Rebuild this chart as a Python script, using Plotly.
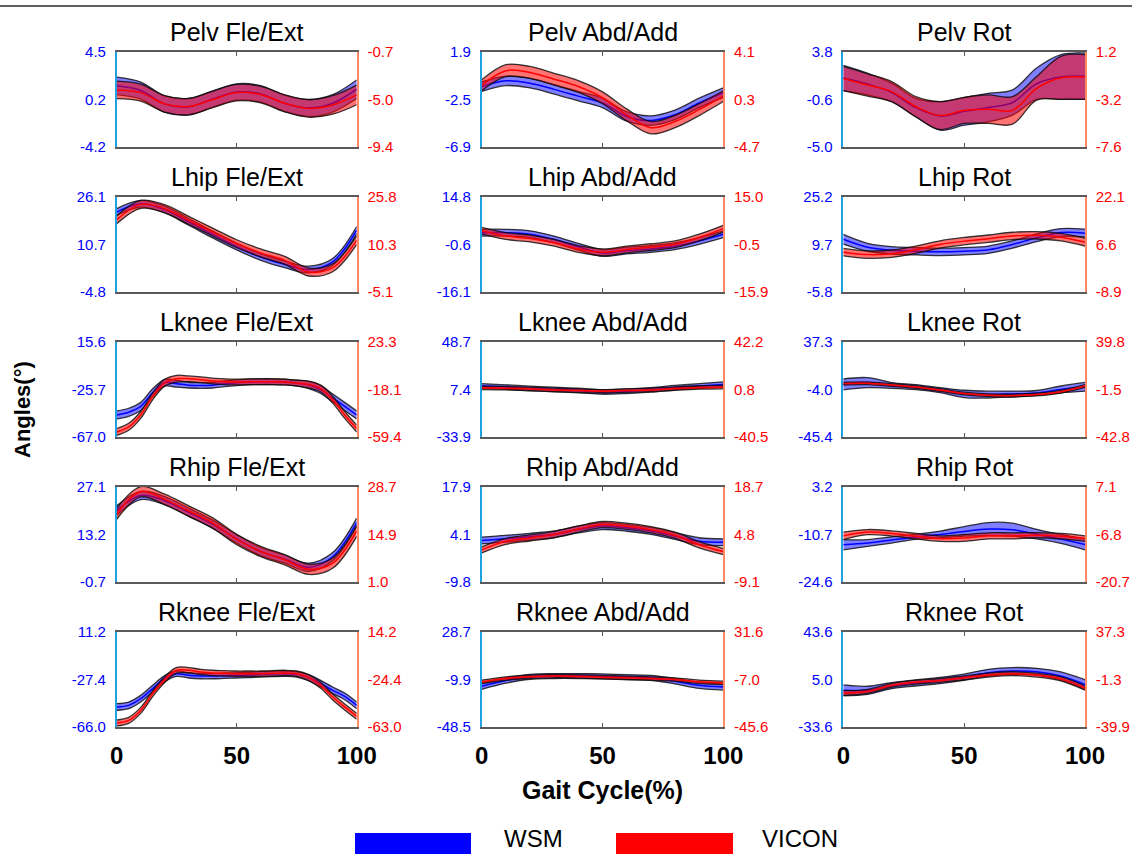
import plotly.graph_objects as go

# ---------------------------------------------------------------- data
GAIT_10 = [0, 10, 20, 30, 40, 50, 60, 70, 80, 90, 100]
GAIT_5 = [0, 5, 10, 15, 20, 25, 30, 35, 40, 45, 50, 55, 60, 65, 70, 75, 80, 85, 90, 95, 100]

TITLES = ["Pelv Fle/Ext", "Pelv Abd/Add", "Pelv Rot",
          "Lhip Fle/Ext", "Lhip Abd/Add", "Lhip Rot",
          "Lknee Fle/Ext", "Lknee Abd/Add", "Lknee Rot",
          "Rhip Fle/Ext", "Rhip Abd/Add", "Rhip Rot",
          "Rknee Fle/Ext", "Rknee Abd/Add", "Rknee Rot"]

# axis tick labels (top, middle, bottom)
WSM_TICKS = [["4.5", "0.2", "-4.2"], ["1.9", "-2.5", "-6.9"], ["3.8", "-0.6", "-5.0"],
             ["26.1", "10.7", "-4.8"], ["14.8", "-0.6", "-16.1"], ["25.2", "9.7", "-5.8"],
             ["15.6", "-25.7", "-67.0"], ["48.7", "7.4", "-33.9"], ["37.3", "-4.0", "-45.4"],
             ["27.1", "13.2", "-0.7"], ["17.9", "4.1", "-9.8"], ["3.2", "-10.7", "-24.6"],
             ["11.2", "-27.4", "-66.0"], ["28.7", "-9.9", "-48.5"], ["43.6", "5.0", "-33.6"]]
VICON_TICKS = [["-0.7", "-5.0", "-9.4"], ["4.1", "0.3", "-4.7"], ["1.2", "-3.2", "-7.6"],
               ["25.8", "10.3", "-5.1"], ["15.0", "-0.5", "-15.9"], ["22.1", "6.6", "-8.9"],
               ["23.3", "-18.1", "-59.4"], ["42.2", "0.8", "-40.5"], ["39.8", "-1.5", "-42.8"],
               ["28.7", "14.9", "1.0"], ["18.7", "4.8", "-9.1"], ["7.1", "-6.8", "-20.7"],
               ["14.2", "-24.4", "-63.0"], ["31.6", "-7.0", "-45.6"], ["37.3", "-1.3", "-39.9"]]

# Pelvis
PELV_FLE_WSM = [1.40, 0.97, -0.27, -0.51, 0.19, 0.84, 0.66, -0.20, -0.63, -0.20, 1.09]
PELV_FLE_WSM_SD = [0.80, 0.78, 0.75, 0.75, 0.75, 0.75, 0.75, 0.75, 0.78, 0.80, 0.85]
PELV_FLE_VICON = [-4.17, -4.42, -5.45, -5.70, -5.05, -4.42, -4.60, -5.40, -5.87, -5.55, -4.63]
PELV_FLE_VICON_SD = [0.80, 0.78, 0.75, 0.75, 0.75, 0.75, 0.75, 0.78, 0.80, 0.85, 0.90]

PELV_ABD_WSM = [-1.31, -0.77, -0.99, -1.56, -2.19, -2.82, -4.07, -4.45, -3.92, -2.82, -1.87]
PELV_ABD_WSM_SD = [0.44, 0.44, 0.44, 0.44, 0.44, 0.44, 0.44, 0.44, 0.44, 0.44, 0.44]
PELV_ABD_VICON = [1.02, 2.37, 2.21, 1.58, 0.90, -0.14, -1.72, -2.91, -2.34, -1.24, 0.01]
PELV_ABD_VICON_SD = [0.50, 0.55, 0.55, 0.55, 0.55, 0.55, 0.55, 0.57, 0.57, 0.55, 0.50]

PELV_ROT_WSM = [1.39, 0.83, 0.05, -1.35, -2.12, -1.70, -1.35, -0.88, 0.86, 1.48, 1.56]
PELV_ROT_WSM_SD = [1.17, 1.01, 0.86, 0.86, 1.32, 1.28, 1.32, 1.17, 1.45, 2.07, 2.15]
PELV_ROT_VICON = [-1.26, -1.85, -2.47, -3.87, -4.69, -4.21, -4.10, -4.21, -2.16, -1.19, -1.11]
PELV_ROT_VICON_SD = [1.12, 1.03, 0.93, 0.93, 1.29, 1.21, 1.32, 1.28, 1.09, 1.99, 2.07]

# Left hip
LHIP_FLE_WSM = [21.2, 23.9, 22.0, 18.0, 13.9, 10.0, 6.6, 4.2, 2.5, 5.0, 15.3]
LHIP_FLE_WSM_SD = [1.1, 1.1, 1.1, 1.1, 1.1, 1.1, 1.1, 1.1, 1.1, 1.1, 1.2]
LHIP_FLE_VICON = [18.4, 23.4, 22.0, 18.2, 14.4, 10.6, 7.6, 5.2, 1.4, 2.8, 11.7]
LHIP_FLE_VICON_SD = [1.3, 1.3, 1.3, 1.3, 1.3, 1.3, 1.3, 1.3, 1.3, 1.3, 1.4]

LHIP_ABD_WSM = [3.2, 3.2, 2.7, 1.0, -1.4, -3.4, -2.6, -2.1, -1.2, 0.5, 2.7]
LHIP_ABD_WSM_SD = [1.1, 1.1, 1.1, 1.1, 1.1, 1.1, 1.1, 1.1, 1.1, 1.1, 1.1]
LHIP_ABD_VICON = [4.0, 2.3, 1.5, 0.1, -1.9, -3.0, -2.1, -1.3, -0.4, 1.8, 4.7]
LHIP_ABD_VICON_SD = [1.1, 1.1, 1.1, 1.1, 1.1, 1.1, 1.1, 1.1, 1.1, 1.1, 1.1]

LHIP_ROT_WSM = [11.4, 8.8, 7.8, 7.5, 7.3, 7.5, 8.0, 9.7, 11.9, 13.6, 13.4]
LHIP_ROT_WSM_SD = [1.6, 1.3, 1.2, 1.2, 1.2, 1.2, 1.2, 1.2, 1.3, 1.3, 1.3]
LHIP_ROT_VICON = [4.1, 3.3, 3.6, 4.9, 6.6, 7.7, 8.5, 9.4, 9.6, 9.0, 7.4]
LHIP_ROT_VICON_SD = [1.2, 1.2, 1.2, 1.2, 1.2, 1.2, 1.2, 1.2, 1.2, 1.2, 1.3]

# Left knee
LKNEE_FLE_WSM = [-47.8, -45.5, -40.4, -28.6, -19.8, -20.7, -21.9, -22.2, -21.9, -20.7, -19.8,
                 -19.2, -18.9, -18.9, -19.2, -20.1, -21.9, -25.7, -33.1, -40.4, -47.8]
LKNEE_FLE_WSM_SD = [3.5, 3.5, 3.5, 3.5, 3.0, 3.0, 2.5, 2.5, 2.5, 2.5, 2.5,
                    2.5, 2.5, 2.5, 2.5, 2.5, 3.0, 3.5, 3.5, 3.5, 3.5]
LKNEE_FLE_VICON = [-55.0, -50.5, -40.2, -24.0, -12.2, -8.7, -8.7, -9.5, -10.7, -11.3, -11.6,
                   -11.3, -11.3, -11.3, -11.6, -12.5, -13.7, -17.2, -26.9, -40.2, -52.0]
LKNEE_FLE_VICON_SD = [3.0, 3.0, 3.0, 3.0, 3.0, 3.0, 2.5, 2.5, 2.5, 2.5, 2.5,
                      2.5, 2.5, 2.5, 2.5, 2.5, 3.0, 3.0, 3.0, 3.0, 3.0]

LKNEE_ABD_WSM = [10.4, 9.5, 8.3, 7.4, 6.5, 5.3, 5.9, 7.1, 8.9, 10.4, 11.8]
LKNEE_ABD_WSM_SD = [2.1, 2.0, 2.0, 2.0, 2.0, 2.0, 2.0, 2.0, 2.0, 2.1, 2.3]
LKNEE_ABD_VICON = [2.3, 2.0, 1.4, 0.5, -0.1, -0.7, -0.1, 0.5, 1.7, 2.6, 2.9]
LKNEE_ABD_VICON_SD = [1.5, 1.5, 1.5, 1.5, 1.5, 1.5, 1.5, 1.5, 1.5, 1.5, 1.5]

LKNEE_ROT_WSM = [0.4, 1.9, -0.5, -2.0, -4.6, -7.9, -8.5, -7.9, -7.0, -4.0, -1.7]
LKNEE_ROT_WSM_SD = [4.7, 4.4, 2.5, 2.2, 2.2, 3.2, 3.0, 2.5, 2.1, 3.0, 3.8]
LKNEE_ROT_VICON = [3.6, 3.9, 2.4, 0.6, -2.0, -5.0, -6.5, -6.8, -5.9, -3.5, 1.5]
LKNEE_ROT_VICON_SD = [1.2, 1.2, 1.2, 1.2, 1.2, 1.2, 1.2, 1.2, 1.2, 1.2, 1.2]

# Right hip
RHIP_FLE_WSM = [20.2, 24.6, 23.1, 19.7, 16.2, 11.9, 8.2, 6.0, 3.6, 6.7, 16.7]
RHIP_FLE_WSM_SD = [1.4, 1.2, 1.2, 1.2, 1.2, 1.2, 1.2, 1.2, 1.2, 1.2, 1.3]
RHIP_FLE_VICON = [20.9, 27.3, 25.1, 21.7, 18.2, 13.4, 9.9, 7.5, 4.7, 6.5, 15.9]
RHIP_FLE_VICON_SD = [1.6, 1.5, 1.5, 1.5, 1.5, 1.5, 1.5, 1.5, 1.5, 1.5, 1.6]

RHIP_ABD_WSM = [2.3, 2.8, 3.4, 4.1, 5.5, 6.5, 6.0, 5.1, 3.6, 2.1, 1.8]
RHIP_ABD_WSM_SD = [1.0, 1.0, 1.0, 1.0, 1.0, 1.0, 1.0, 1.0, 1.0, 1.0, 1.0]
RHIP_ABD_VICON = [0.3, 2.8, 3.8, 4.8, 6.4, 7.7, 7.2, 6.2, 4.6, 1.8, -0.2]
RHIP_ABD_VICON_SD = [0.9, 0.9, 0.9, 0.9, 0.9, 0.9, 0.9, 0.9, 0.9, 0.9, 0.9]

RHIP_ROT_WSM = [-13.7, -13.2, -12.3, -11.4, -10.7, -9.8, -9.1, -9.3, -10.6, -12.0, -13.6]
RHIP_ROT_WSM_SD = [1.5, 1.0, 0.9, 0.75, 1.0, 1.4, 1.9, 1.9, 1.4, 1.3, 1.6]
RHIP_ROT_VICON = [-7.2, -6.1, -6.5, -7.3, -8.0, -7.8, -7.2, -7.2, -7.0, -7.3, -8.0]
RHIP_ROT_VICON_SD = [1.1, 0.75, 0.75, 0.8, 0.8, 1.0, 0.9, 0.9, 0.75, 0.8, 0.8]

# Right knee
RKNEE_FLE_WSM = [-49.7, -48.4, -43.0, -34.8, -26.7, -22.7, -24.0, -24.6, -24.6, -24.3, -24.0,
                 -23.7, -23.2, -22.9, -22.7, -23.2, -25.9, -30.8, -36.2, -41.1, -48.4]
RKNEE_FLE_WSM_SD = [2.7, 2.7, 2.7, 2.7, 2.5, 2.2, 2.2, 2.2, 2.2, 2.2, 2.2,
                    2.2, 2.2, 2.2, 2.2, 2.2, 2.5, 2.7, 2.7, 2.7, 2.7]
RKNEE_FLE_VICON = [-59.7, -57.6, -49.5, -35.9, -24.5, -16.9, -16.9, -18.3, -19.1, -19.4, -19.7,
                   -19.7, -19.7, -19.4, -19.1, -19.7, -22.9, -29.1, -38.6, -46.7, -54.3]
RKNEE_FLE_VICON_SD = [2.4, 2.4, 2.4, 2.4, 2.4, 2.4, 2.2, 2.2, 2.2, 2.2, 2.2,
                      2.2, 2.2, 2.2, 2.2, 2.2, 2.4, 2.4, 2.4, 2.4, 2.4]

RKNEE_ABD_WSM = [-15.4, -10.7, -7.7, -7.1, -7.1, -7.4, -8.0, -8.5, -11.3, -14.6, -16.0]
RKNEE_ABD_WSM_SD = [2.5, 2.2, 2.0, 2.0, 2.0, 2.0, 2.0, 2.0, 2.2, 2.5, 2.5]
RKNEE_ABD_VICON = [-8.9, -6.2, -4.8, -4.2, -4.5, -5.1, -5.6, -6.2, -7.0, -8.9, -9.8]
RKNEE_ABD_VICON_SD = [1.4, 1.4, 1.4, 1.4, 1.4, 1.4, 1.4, 1.4, 1.4, 1.4, 1.4]

RKNEE_ROT_WSM = [-3.8, -3.8, 0.0, 2.2, 4.2, 6.9, 10.5, 11.9, 11.3, 7.8, 0.9]
RKNEE_ROT_WSM_SD = [4.4, 3.3, 2.5, 2.5, 2.5, 2.5, 2.8, 2.8, 2.8, 3.3, 3.9]
RKNEE_ROT_VICON = [-12.3, -11.0, -6.0, -3.5, -2.1, 0.1, 2.3, 3.4, 2.3, -0.8, -8.2]
RKNEE_ROT_VICON_SD = [1.9, 1.6, 1.6, 1.6, 1.6, 1.6, 1.6, 1.6, 1.6, 1.6, 1.7]

PANELS = [
    (GAIT_10, PELV_FLE_WSM, PELV_FLE_WSM_SD, PELV_FLE_VICON, PELV_FLE_VICON_SD),
    (GAIT_10, PELV_ABD_WSM, PELV_ABD_WSM_SD, PELV_ABD_VICON, PELV_ABD_VICON_SD),
    (GAIT_10, PELV_ROT_WSM, PELV_ROT_WSM_SD, PELV_ROT_VICON, PELV_ROT_VICON_SD),
    (GAIT_10, LHIP_FLE_WSM, LHIP_FLE_WSM_SD, LHIP_FLE_VICON, LHIP_FLE_VICON_SD),
    (GAIT_10, LHIP_ABD_WSM, LHIP_ABD_WSM_SD, LHIP_ABD_VICON, LHIP_ABD_VICON_SD),
    (GAIT_10, LHIP_ROT_WSM, LHIP_ROT_WSM_SD, LHIP_ROT_VICON, LHIP_ROT_VICON_SD),
    (GAIT_5, LKNEE_FLE_WSM, LKNEE_FLE_WSM_SD, LKNEE_FLE_VICON, LKNEE_FLE_VICON_SD),
    (GAIT_10, LKNEE_ABD_WSM, LKNEE_ABD_WSM_SD, LKNEE_ABD_VICON, LKNEE_ABD_VICON_SD),
    (GAIT_10, LKNEE_ROT_WSM, LKNEE_ROT_WSM_SD, LKNEE_ROT_VICON, LKNEE_ROT_VICON_SD),
    (GAIT_10, RHIP_FLE_WSM, RHIP_FLE_WSM_SD, RHIP_FLE_VICON, RHIP_FLE_VICON_SD),
    (GAIT_10, RHIP_ABD_WSM, RHIP_ABD_WSM_SD, RHIP_ABD_VICON, RHIP_ABD_VICON_SD),
    (GAIT_10, RHIP_ROT_WSM, RHIP_ROT_WSM_SD, RHIP_ROT_VICON, RHIP_ROT_VICON_SD),
    (GAIT_5, RKNEE_FLE_WSM, RKNEE_FLE_WSM_SD, RKNEE_FLE_VICON, RKNEE_FLE_VICON_SD),
    (GAIT_10, RKNEE_ABD_WSM, RKNEE_ABD_WSM_SD, RKNEE_ABD_VICON, RKNEE_ABD_VICON_SD),
    (GAIT_10, RKNEE_ROT_WSM, RKNEE_ROT_WSM_SD, RKNEE_ROT_VICON, RKNEE_ROT_VICON_SD),
]

# ---------------------------------------------------------------- layout grid (pixels)
W, H = 1132, 854
COLS = [(116.7, 356.7), (481.7, 723.3), (843.3, 1085.0)]
ROW_TOPS = [52, 197, 342, 487, 632]
ROW_H = 95

FONT = "Liberation Sans, Arial, sans-serif"
WSM_FILL = "rgba(0,0,255,0.5)"
VICON_FILL = "rgba(255,0,0,0.55)"
EDGE = dict(color="rgba(10,10,10,0.8)", width=1.3, shape="spline")

fig = go.Figure()


def add_band(x, mean, sd, xref, yref, fill, mean_color):
    lower = [m - s for m, s in zip(mean, sd)]
    upper = [m + s for m, s in zip(mean, sd)]
    fig.add_trace(go.Scatter(x=x, y=lower, xaxis=xref, yaxis=yref, mode="lines",
                             line=EDGE, showlegend=False, hoverinfo="skip"))
    fig.add_trace(go.Scatter(x=x, y=upper, xaxis=xref, yaxis=yref, mode="lines",
                             line=EDGE, fill="tonexty", fillcolor=fill,
                             showlegend=False, hoverinfo="skip"))
    fig.add_trace(go.Scatter(x=x, y=mean, xaxis=xref, yaxis=yref, mode="lines",
                             line=dict(color=mean_color, width=1.5, shape="spline"),
                             showlegend=False))


def tick_positions(labels):
    hi, lo = float(labels[0]), float(labels[2])
    return [hi, (hi + lo) / 2, lo], (lo, hi)


annotations = []
for k, (gait, wsm, wsm_sd, vic, vic_sd) in enumerate(PANELS):
    r, c = divmod(k, 3)
    x0, x1 = COLS[c]
    top = ROW_TOPS[r]
    bot = top + ROW_H
    xid = "x" if k == 0 else f"x{k + 1}"
    yl = f"y{2 * k + 1}" if k > 0 else "y"
    yr = f"y{2 * k + 2}"

    lt, lrng = tick_positions(WSM_TICKS[k])
    rt, rrng = tick_positions(VICON_TICKS[k])

    fig.layout["xaxis" + xid[1:]] = dict(
        domain=[x0 / W, x1 / W], range=[0, 100], anchor=yl, automargin=False,
        tickvals=[0, 50, 100], ticktext=["0", "50", "100"], ticks="",
        minor=dict(tickvals=[50], ticks="inside", ticklen=4, tickcolor="#555"),
        showline=True, linecolor="#5a5a5a", linewidth=1.5, mirror="allticks",
        showticklabels=(r == 4), ticklabelstandoff=6,
        tickfont=dict(family=FONT, size=24, color="black", weight="bold"),
        showgrid=False, zeroline=False, fixedrange=True)
    fig.layout["yaxis" + yl[1:]] = dict(
        domain=[1 - bot / H, 1 - top / H], range=list(lrng), anchor=xid, side="left",
        automargin=False, tickvals=lt, ticktext=WSM_TICKS[k], ticks="",
        tickfont=dict(family=FONT, size=15, color="#0000ff"),
        showline=True, linecolor="#1fa0e0", linewidth=1.5,
        showgrid=False, zeroline=False, ticklabelstandoff=6)
    fig.layout["yaxis" + yr[1:]] = dict(
        overlaying=yl, range=list(rrng), anchor=xid, side="right", automargin=False,
        tickvals=rt, ticktext=VICON_TICKS[k], ticks="",
        tickfont=dict(family=FONT, size=15, color="#ff0000"),
        showline=True, linecolor="#ff8a65", linewidth=1.5,
        showgrid=False, zeroline=False, ticklabelstandoff=6)

    add_band(gait, wsm, wsm_sd, xid, yl, WSM_FILL, "#0000ff")
    add_band(gait, vic, vic_sd, xid, yr, VICON_FILL, "#ff0000")

    annotations.append(dict(
        text=TITLES[k], x=(x0 + x1) / 2 / W, y=1 - (top - 4) / H,
        xref="paper", yref="paper", xanchor="center", yanchor="bottom",
        showarrow=False, font=dict(family=FONT, size=25, color="black")))

annotations += [
    dict(text="Angles(°)", x=22 / W, y=1 - 410 / H, xref="paper", yref="paper",
         textangle=-90, showarrow=False, xanchor="center", yanchor="middle",
         font=dict(family=FONT, size=22, color="black", weight="bold")),
    dict(text="Gait Cycle(%)", x=602 / W, y=1 - 790 / H, xref="paper", yref="paper",
         showarrow=False, xanchor="center", yanchor="middle",
         font=dict(family=FONT, size=25, color="black", weight="bold")),
    dict(text="WSM", x=502 / W, y=1 - 838 / H, xref="paper", yref="paper",
         showarrow=False, xanchor="left", yanchor="middle",
         font=dict(family=FONT, size=24, color="black")),
    dict(text="VICON", x=760 / W, y=1 - 838 / H, xref="paper", yref="paper",
         showarrow=False, xanchor="left", yanchor="middle",
         font=dict(family=FONT, size=24, color="black")),
]

shapes = [
    dict(type="line", xref="paper", yref="paper", x0=0, x1=1, y0=1 - 6 / H, y1=1 - 6 / H,
         line=dict(color="#606060", width=2)),
    dict(type="rect", xref="paper", yref="paper", x0=355 / W, x1=471 / W,
         y0=1 - 854 / H, y1=1 - 833 / H, fillcolor="#0000ff", line=dict(width=0)),
    dict(type="rect", xref="paper", yref="paper", x0=616 / W, x1=733 / W,
         y0=1 - 854 / H, y1=1 - 833 / H, fillcolor="#ff0000", line=dict(width=0)),
]

fig.update_layout(
    width=W, height=H, autosize=False, margin=dict(l=0, r=0, t=0, b=0, autoexpand=False),
    paper_bgcolor="white", plot_bgcolor="white",
    annotations=annotations, shapes=shapes, showlegend=False,
    font=dict(family=FONT))

# drop the default page margin so the figure sits flush in the window
PAGE_FIX = "document.body.style.margin='0';document.body.style.overflow='hidden';"

fig.write_html("out.html", post_script=PAGE_FIX)
